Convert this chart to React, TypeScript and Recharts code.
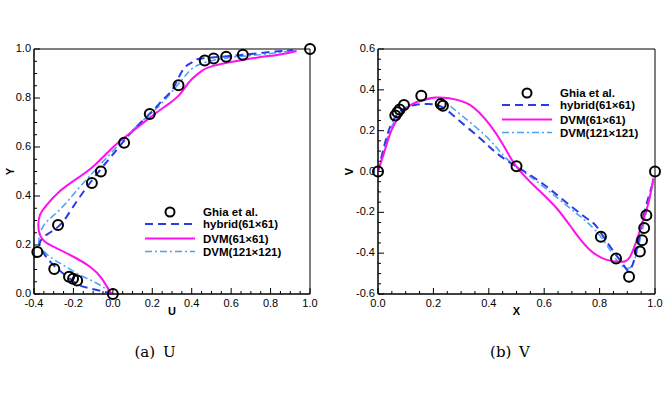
import {
  ComposedChart,
  Line,
  Scatter,
  XAxis,
  YAxis,
  ReferenceArea,
  Legend,
} from "recharts";

// ---- U along the vertical centreline (left panel) ----
const ghiaU = [1, 0.65928, 0.57492, 0.51117, 0.46604, 0.33304, 0.18719, 0.05702, -0.0608, -0.10648, -0.27805, -0.38289, -0.2973, -0.2222, -0.20196, -0.18109, 0];
const ghiaY = [1, 0.9766, 0.9688, 0.9609, 0.9531, 0.8516, 0.7344, 0.6172, 0.5, 0.4531, 0.2813, 0.1719, 0.1016, 0.0703, 0.0625, 0.0547, 0];

const hybridU = [0, -0.116, -0.18, -0.252, -0.31, -0.35, -0.372, -0.355, -0.32, -0.277, -0.234, -0.167, -0.065, 0.019, 0.104, 0.205, 0.256, 0.306, 0.357, 0.4, 0.44, 0.594, 0.763, 0.915];
const hybridY = [0, 0.023, 0.04, 0.084, 0.125, 0.165, 0.2, 0.23, 0.25, 0.275, 0.316, 0.397, 0.506, 0.588, 0.669, 0.75, 0.795, 0.84, 0.917, 0.945, 0.96, 0.971, 0.985, 0.996];

const dvm61U = [0, -0.015, -0.057, -0.116, -0.2, -0.302, -0.344, -0.37, -0.378, -0.37, -0.336, -0.268, -0.184, -0.1, 0.002, 0.087, 0.188, 0.273, 0.34, 0.391, 0.45, 0.509, 0.679, 0.848, 0.932];
const dvm61Y = [0, 0.01, 0.064, 0.111, 0.152, 0.193, 0.213, 0.241, 0.282, 0.322, 0.363, 0.42, 0.47, 0.52, 0.6, 0.656, 0.72, 0.77, 0.815, 0.869, 0.91, 0.931, 0.958, 0.978, 0.992];

const dvm121U = [0, -0.015, -0.082, -0.167, -0.252, -0.319, -0.37, -0.375, -0.37, -0.336, -0.268, -0.167, -0.065, 0.036, 0.137, 0.239, 0.324, 0.374, 0.442, 0.594, 0.763, 0.924];
const dvm121Y = [0, 0.01, 0.044, 0.078, 0.118, 0.152, 0.193, 0.22, 0.248, 0.295, 0.345, 0.438, 0.527, 0.615, 0.697, 0.771, 0.849, 0.897, 0.938, 0.965, 0.978, 0.996];

// ---- V along the horizontal centreline (right panel) ----
const ghiaX = [1, 0.9688, 0.9609, 0.9531, 0.9453, 0.9063, 0.8594, 0.8047, 0.5, 0.2344, 0.2266, 0.1563, 0.0938, 0.0781, 0.0703, 0.0625, 0];
const ghiaV = [0, -0.21388, -0.27669, -0.33714, -0.39188, -0.5155, -0.42665, -0.31966, 0.02526, 0.32235, 0.33075, 0.37095, 0.32627, 0.30353, 0.29012, 0.27485, 0];

const hybridX = [0, 0.025, 0.049, 0.085, 0.134, 0.182, 0.23, 0.284, 0.368, 0.429, 0.5, 0.585, 0.669, 0.753, 0.789, 0.838, 0.886, 0.91, 0.934, 0.958, 0.988];
const hybridV = [0, 0.138, 0.236, 0.3, 0.326, 0.331, 0.317, 0.26, 0.163, 0.089, 0.024, -0.05, -0.14, -0.229, -0.27, -0.368, -0.458, -0.482, -0.384, -0.221, -0.074];

const dvm61X = [0, 0.025, 0.049, 0.085, 0.134, 0.206, 0.26, 0.332, 0.404, 0.452, 0.5, 0.573, 0.645, 0.705, 0.765, 0.826, 0.874, 0.91, 0.946, 0.976, 0.994];
const dvm61V = [0, 0.105, 0.203, 0.285, 0.337, 0.362, 0.358, 0.326, 0.228, 0.13, 0.024, -0.082, -0.18, -0.287, -0.384, -0.433, -0.442, -0.417, -0.287, -0.156, -0.033];

const dvm121X = [0, 0.025, 0.049, 0.085, 0.134, 0.194, 0.23, 0.308, 0.392, 0.452, 0.5, 0.597, 0.693, 0.753, 0.813, 0.861, 0.898, 0.921, 0.946, 0.976, 0.994];
const dvm121V = [0, 0.12, 0.22, 0.29, 0.334, 0.358, 0.352, 0.268, 0.17, 0.08, 0.024, -0.074, -0.18, -0.246, -0.335, -0.433, -0.474, -0.45, -0.335, -0.156, -0.05];

// major tick labels
const uTicks = [-0.4, -0.2, 0, 0.2, 0.4, 0.6, 0.8, 1.0];
const yTicks = [0, 0.2, 0.4, 0.6, 0.8, 1.0];
const xTicks = [0, 0.2, 0.4, 0.6, 0.8, 1.0];
const vTicks = [-0.6, -0.4, -0.2, 0, 0.2, 0.4, 0.6];

const legendNames = ["Ghia et al.", "hybrid(61\u00d761)", "DVM(61\u00d761)", "DVM(121\u00d7121)"];

const hybridStyle = { stroke: "#2b3ce6", strokeWidth: 2, strokeDasharray: "8 5" };
const dvm61Style = { stroke: "#ff10ee", strokeWidth: 2 };
const dvm121Style = { stroke: "#45a2f7", strokeWidth: 1.5, strokeDasharray: "7 3 2 3" };

const FONT = "'Liberation Sans', Arial, sans-serif";

const toPts = (xs: number[], ys: number[]) => xs.map((x, i) => ({ x, y: ys[i] }));

// minor ticks every quarter between majors
const withMinor = (majors: number[]) => {
  const out: number[] = [];
  for (let i = 0; i < majors.length - 1; i++) {
    const step = (majors[i + 1] - majors[i]) / 4;
    for (let k = 0; k < 4; k++) out.push(majors[i] + k * step);
  }
  out.push(majors[majors.length - 1]);
  return out;
};

const isMajor = (v: number, majors: number[]) => majors.some((m) => Math.abs(m - v) < 1e-6);

const makeXTick = (majors: number[]) => (props: any) => {
  const { x, y, payload } = props;
  const major = isMajor(payload.value, majors);
  return (
    <g>
      <line x1={x} y1={y} x2={x} y2={y - (major ? 6 : 3)} stroke="#000" />
      {major && (
        <text x={x} y={y + 13} textAnchor="middle" fontSize={11} fontFamily={FONT} fill="#000">
          {payload.value.toFixed(1)}
        </text>
      )}
    </g>
  );
};

const makeYTick = (majors: number[]) => (props: any) => {
  const { x, y, payload } = props;
  const major = isMajor(payload.value, majors);
  return (
    <g>
      <line x1={x} y1={y} x2={x + (major ? 6 : 3)} y2={y} stroke="#000" />
      {major && (
        <text x={x - 3} y={y + 3} textAnchor="end" fontSize={11} fontFamily={FONT} fill="#000">
          {payload.value.toFixed(1)}
        </text>
      )}
    </g>
  );
};

const Ring = (props: any) => (
  <circle cx={props.cx} cy={props.cy} r={5} fill="none" stroke="#000" strokeWidth={2} />
);

function LegendBox() {
  const rows = [9, 21, 35.5, 48.5];
  const styles = [null, hybridStyle, dvm61Style, dvm121Style];
  return (
    <svg width={190} height={58}>
      {legendNames.map((name, i) => (
        <g key={name}>
          {styles[i] ? (
            <line x1={5} x2={55} y1={rows[i]} y2={rows[i]} {...(styles[i] as any)} />
          ) : (
            <circle cx={30} cy={rows[i]} r={4.5} fill="none" stroke="#000" strokeWidth={2} />
          )}
          <text x={63} y={rows[i] + 4} fontSize={11.5} fontWeight="bold" fontFamily={FONT} fill="#000">
            {name}
          </text>
        </g>
      ))}
    </svg>
  );
}

type PanelProps = {
  xMajor: number[];
  yMajor: number[];
  xName: string;
  yName: string;
  yNameX: number;
  yAxisW: number;
  rightM: number;
  ghia: { x: number; y: number }[];
  hybrid: { x: number; y: number }[];
  dvm61: { x: number; y: number }[];
  dvm121: { x: number; y: number }[];
  legendLeft: number;
  legendTop: number;
};

function Panel(p: PanelProps) {
  const xd = [p.xMajor[0], p.xMajor[p.xMajor.length - 1]];
  const yd = [p.yMajor[0], p.yMajor[p.yMajor.length - 1]];
  return (
    <ComposedChart width={334} height={320} margin={{ top: 49, right: p.rightM, bottom: 0, left: 0 }}>
      <XAxis
        type="number"
        dataKey="x"
        domain={xd}
        ticks={withMinor(p.xMajor)}
        interval={0}
        height={26}
        tickSize={0}
        tickMargin={0}
        tickLine={false}
        axisLine={{ stroke: "#000" }}
        tick={makeXTick(p.xMajor)}
        label={{
          content: ({ viewBox }: any) => (
            <text
              x={viewBox.x + viewBox.width / 2}
              y={viewBox.y + 21}
              textAnchor="middle"
              fontSize={11}
              fontWeight="bold"
              fontFamily={FONT}
            >
              {p.xName}
            </text>
          ),
        }}
      />
      <YAxis
        type="number"
        dataKey="y"
        domain={yd}
        ticks={withMinor(p.yMajor)}
        interval={0}
        width={p.yAxisW}
        tickSize={0}
        tickMargin={0}
        tickLine={false}
        axisLine={{ stroke: "#000" }}
        tick={makeYTick(p.yMajor)}
        label={{
          content: ({ viewBox }: any) => {
            const cy = viewBox.y + viewBox.height / 2;
            return (
              <text
                x={p.yNameX}
                y={cy}
                transform={`rotate(-90 ${p.yNameX} ${cy})`}
                textAnchor="middle"
                dominantBaseline="central"
                fontSize={11}
                fontWeight="bold"
                fontFamily={FONT}
              >
                {p.yName}
              </text>
            );
          },
        }}
      />
      <ReferenceArea x1={xd[0]} x2={xd[1]} y1={yd[0]} y2={yd[1]} fill="none" stroke="#000" strokeWidth={1} />
      <Line data={p.dvm121} dataKey="y" type="natural" dot={false} isAnimationActive={false} {...dvm121Style} />
      <Line data={p.hybrid} dataKey="y" type="natural" dot={false} isAnimationActive={false} {...hybridStyle} />
      <Line data={p.dvm61} dataKey="y" type="natural" dot={false} isAnimationActive={false} {...dvm61Style} />
      <Scatter data={p.ghia} shape={Ring} isAnimationActive={false} />
      <Legend
        layout="vertical"
        align="center"
        verticalAlign="middle"
        content={() => <LegendBox />}
        wrapperStyle={{ left: p.legendLeft, top: p.legendTop, width: 190, height: 58 }}
      />
    </ComposedChart>
  );
}

const captionStyle = {
  position: "absolute" as const,
  top: 343,
  width: 100,
  textAlign: "center" as const,
  fontFamily: "'DejaVu Serif', serif",
  fontSize: 15,
  lineHeight: "18px",
  wordSpacing: 3,
};

export default function App() {
  return (
    <div style={{ position: "absolute", left: 0, top: 0, width: 668, height: 397, background: "#fff" }}>
      <div style={{ position: "absolute", left: 0, top: 0 }}>
        <Panel
          xMajor={uTicks}
          yMajor={yTicks}
          xName="U"
          yName="Y"
          yNameX={10}
          yAxisW={34}
          rightM={24}
          ghia={toPts(ghiaU, ghiaY)}
          hybrid={toPts(hybridU, hybridY)}
          dvm61={toPts(dvm61U, dvm61Y)}
          dvm121={toPts(dvm121U, dvm121Y)}
          legendLeft={140}
          legendTop={203}
        />
      </div>
      <div style={{ position: "absolute", left: 334, top: 0 }}>
        <Panel
          xMajor={xTicks}
          yMajor={vTicks}
          xName="X"
          yName="V"
          yNameX={15}
          yAxisW={44}
          rightM={13}
          ghia={toPts(ghiaX, ghiaV)}
          hybrid={toPts(hybridX, hybridV)}
          dvm61={toPts(dvm61X, dvm61V)}
          dvm121={toPts(dvm121X, dvm121V)}
          legendLeft={163}
          legendTop={84}
        />
      </div>
      <div style={{ ...captionStyle, left: 105 }}>(a) U</div>
      <div style={{ ...captionStyle, left: 460 }}>(b) V</div>
    </div>
  );
}
